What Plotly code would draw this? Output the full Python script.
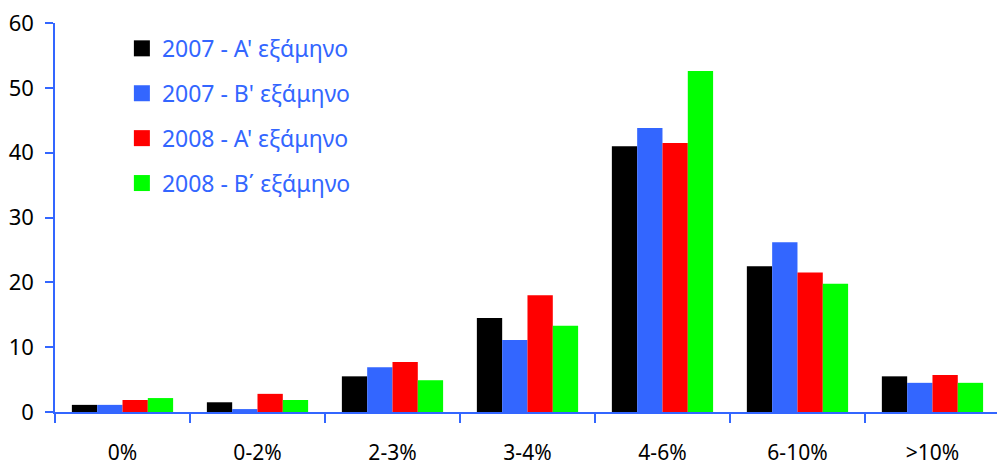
import plotly.graph_objects as go

categories = ["0%", "0-2%", "2-3%", "3-4%", "4-6%", "6-10%", ">10%"]
series_names = ["2007 - A' εξάμηνο", "2007 - B' εξάμηνο", "2008 - A' εξάμηνο", "2008 - Β΄ εξάμηνο"]
s2007a = [1.1, 1.5, 5.5, 14.5, 41.0, 22.5, 5.5]
s2007b = [1.1, 0.45, 6.9, 11.1, 43.8, 26.2, 4.5]
s2008a = [1.85, 2.8, 7.7, 18.0, 41.5, 21.5, 5.7]
s2008b = [2.15, 1.85, 4.9, 13.3, 52.6, 19.8, 4.5]
colors = ["#000000", "#3366FF", "#FF0000", "#00FF00"]
y_ticks = [0, 10, 20, 30, 40, 50, 60]

FONT = "Noto Sans"
fig = go.Figure()
for name, vals, col in zip(series_names, [s2007a, s2007b, s2008a, s2008b], colors):
    fig.add_trace(go.Bar(x=categories, y=vals, name=name, marker_color=col,
                         marker_line_width=0, showlegend=False))
for i, (name, col) in enumerate(zip(series_names, colors)):
    fig.add_trace(go.Scatter(x=[None], y=[None], mode="markers", name=name,
                             marker=dict(symbol="square", size=19, color=col),
                             legendgroup=f"g{i}", showlegend=True))

fig.update_layout(
    width=997, height=466,
    margin=dict(l=55, r=0, t=23, b=54),
    paper_bgcolor="white", plot_bgcolor="white",
    barmode="group", bargap=0.25, bargroupgap=0,
    font=dict(family=FONT, size=21, color="black"),
    showlegend=True,
    legend=dict(x=0.071, y=0.99, xanchor="left", yanchor="top",
                bgcolor="rgba(0,0,0,0)", font=dict(color="#3366FF", size=23, family=FONT),
                traceorder="grouped", tracegroupgap=12, itemwidth=30),
    xaxis=dict(showline=True, linecolor="#3366FF", linewidth=1.5, automargin=False,
               range=[-0.5, 6.478],
               ticks="outside", tickson="boundaries", ticklen=9, tickcolor="#3366FF",
               tickwidth=1.5, showgrid=False, ticklabelstandoff=21,
               tickfont=dict(size=21, color="black", family=FONT)),
    yaxis=dict(range=[0, 60], tickvals=y_ticks, showline=True, linecolor="#3366FF",
               linewidth=1.5, ticks="outside", ticklen=8, tickcolor="#3366FF", tickwidth=1.5,
               showgrid=False, zeroline=False, ticklabelstandoff=7, automargin=False,
               tickfont=dict(size=22, color="black", family=FONT)),
)
fig.write_html("out.html", config={"displayModeBar": False},
               post_script="document.body.style.margin='0';document.body.style.overflow='hidden';")
